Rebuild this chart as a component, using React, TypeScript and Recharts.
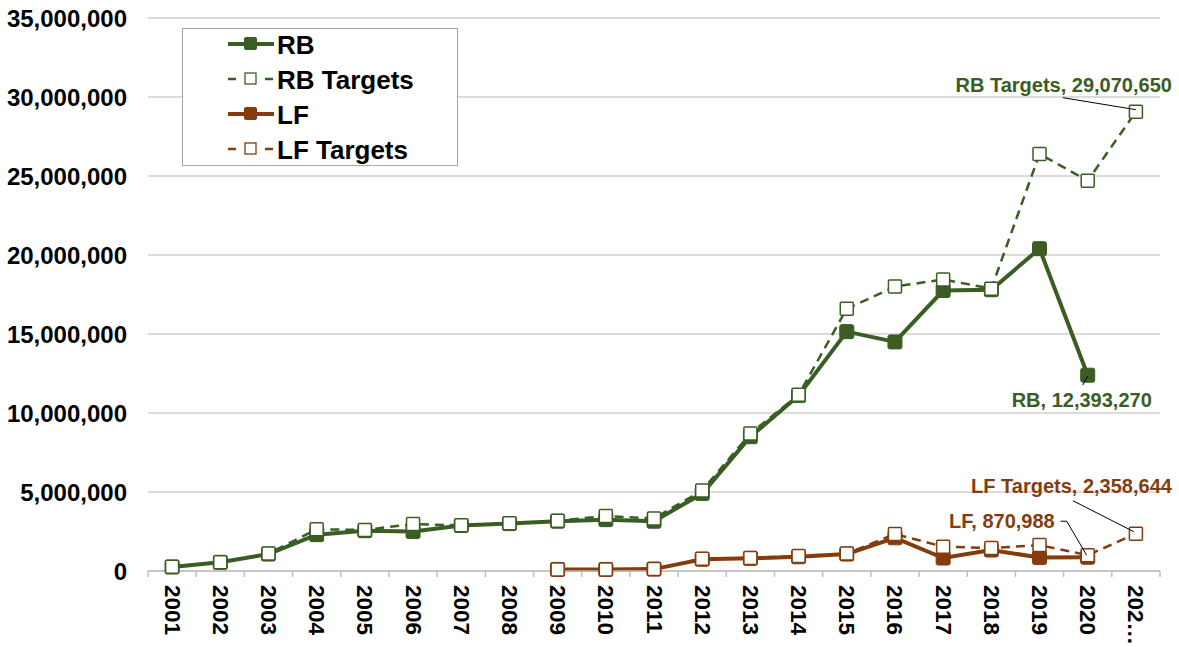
import { LineChart, Line, XAxis, YAxis, CartesianGrid, Legend, LabelList } from 'recharts';

const years = ['2001', '2002', '2003', '2004', '2005', '2006', '2007', '2008', '2009', '2010', '2011', '2012', '2013', '2014', '2015', '2016', '2017', '2018', '2019', '2020', '202…'];
const rb = [250000, 550000, 1070000, 2300000, 2550000, 2500000, 2880000, 3000000, 3150000, 3250000, 3150000, 4900000, 8500000, 11100000, 15150000, 14500000, 17750000, 17800000, 20400000, 12393270, null];
const rbTargets = [270000, 560000, 1100000, 2640000, 2600000, 2970000, 2890000, 3020000, 3180000, 3480000, 3330000, 5100000, 8700000, 11150000, 16600000, 18000000, 18450000, 17870000, 26400000, 24700000, 29070650];
const lf = [null, null, null, null, null, null, null, null, 100000, 100000, 120000, 740000, 800000, 900000, 1070000, 2100000, 820000, 1330000, 850000, 870988, null];
const lfTargets = [null, null, null, null, null, null, null, null, 100000, 100000, 120000, 770000, 830000, 950000, 1100000, 2340000, 1540000, 1450000, 1640000, 1000000, 2358644];
const yTicks = [0, 5000000, 10000000, 15000000, 20000000, 25000000, 30000000, 35000000];
const seriesOrder = ['RB', 'RB Targets', 'LF', 'LF Targets'];

const data = years.map((year, i) => ({
  year,
  rb: rb[i],
  rbTargets: rbTargets[i],
  lf: lf[i],
  lfTargets: lfTargets[i],
}));

const GREEN = '#3a5d23';
const BROWN = '#843c0c';
const FONT = '"Liberation Sans", Arial, sans-serif';
const W = 1179;
const H = 647;
const LEFT = 148;
const RIGHT = 19;
const PLOT_BOTTOM = 571;
const STEP = (W - LEFT - RIGHT) / years.length;

const fmt = (v: number) => v.toLocaleString('en-US');
const lastIdx = (arr: (number | null)[]) => {
  for (let i = arr.length - 1; i >= 0; i--) if (arr[i] != null) return i;
  return -1;
};

const makeDot = (color: string, hollow: boolean) => (props: any) => {
  const { cx, cy, index } = props;
  if (cx == null || cy == null || props.value == null) return <g key={`d-${index}`} />;
  const s = hollow ? 13 : 14;
  return (
    <rect
      key={`d-${index}`}
      x={cx - s / 2}
      y={cy - s / 2}
      width={s}
      height={s}
      rx={hollow ? 1 : 2}
      fill={hollow ? '#fff' : color}
      stroke={color}
      strokeWidth={hollow ? 1.5 : 1}
    />
  );
};

const XTick = (props: any) => {
  const { x, payload, index } = props;
  const ty = PLOT_BOTTOM + 14;
  return (
    <g>
      <line x1={x - STEP / 2} x2={x - STEP / 2} y1={PLOT_BOTTOM} y2={PLOT_BOTTOM + 6} stroke="#bfbfbf" strokeWidth={1.5} />
      {index === years.length - 1 && (
        <line x1={x + STEP / 2} x2={x + STEP / 2} y1={PLOT_BOTTOM} y2={PLOT_BOTTOM + 6} stroke="#bfbfbf" strokeWidth={1.5} />
      )}
      <text
        x={x}
        y={ty}
        transform={`rotate(90 ${x} ${ty})`}
        textAnchor="start"
        dominantBaseline="central"
        fontFamily={FONT}
        fontWeight="bold"
        fontSize={22.5}
        fill="#000"
      >
        {payload.value}
      </text>
    </g>
  );
};

const LegendBox = (props: any) => {
  const items = [...(props.payload || [])].sort(
    (a: any, b: any) => seriesOrder.indexOf(a.value) - seriesOrder.indexOf(b.value)
  );
  return (
    <div
      style={{
        width: 276,
        height: 138,
        border: '1px solid #a6a6a6',
        background: '#fff',
        boxSizing: 'border-box',
      }}
    >
      <svg width={274} height={136} style={{ display: 'block' }}>
        {items.map((entry: any, i: number) => {
          const cy = 15 + i * 35;
          const dashed = !!entry.payload?.strokeDasharray;
          const c = entry.color;
          return (
            <g key={entry.value}>
              {dashed ? (
                <>
                  <line x1={45} x2={53} y1={cy} y2={cy} stroke={c} strokeWidth={2.5} />
                  <rect x={62} y={cy - 6} width={11} height={11} fill="#fff" stroke={c} strokeWidth={1.3} />
                  <line x1={82} x2={90} y1={cy} y2={cy} stroke={c} strokeWidth={2.5} />
                </>
              ) : (
                <>
                  <line x1={45} x2={91} y1={cy} y2={cy} stroke={c} strokeWidth={4} />
                  <rect x={61} y={cy - 7} width={13} height={13} rx={2} fill={c} />
                </>
              )}
              <text x={94} y={cy + 9.5} fontFamily={FONT} fontWeight="bold" fontSize={26} fill="#000">
                {entry.value}
              </text>
            </g>
          );
        })}
      </svg>
    </div>
  );
};

const labelStyle = { fontFamily: FONT, fontWeight: 'bold' as const, fontSize: 20 };

export default function App() {
  const rbLast = lastIdx(rb);
  const rbtLast = lastIdx(rbTargets);
  const lfLast = lastIdx(lf);
  const lftLast = lastIdx(lfTargets);

  return (
    <div style={{ width: W, height: H, background: '#fff' }}>
      <style>{'body{margin:0}'}</style>
      <LineChart width={W} height={H} data={data} margin={{ top: 18, right: RIGHT, bottom: 0, left: 0 }}>
        <CartesianGrid vertical={false} stroke="#d0d0d0" strokeWidth={1.5} />
        <XAxis
          dataKey="year"
          scale="band"
          interval={0}
          height={H - PLOT_BOTTOM}
          tickLine={false}
          stroke="#bfbfbf"
          strokeWidth={1.5}
          tick={<XTick />}
        />
        <YAxis
          width={LEFT}
          domain={[0, 35000000]}
          ticks={yTicks}
          axisLine={false}
          tickLine={false}
          tickSize={0}
          tickMargin={21}
          tickFormatter={fmt}
          tick={{ fill: '#000', fontFamily: FONT, fontWeight: 'bold', fontSize: 24 }}
        />
        <Legend
          layout="vertical"
          align="center"
          verticalAlign="middle"
          content={<LegendBox />}
          wrapperStyle={{ position: 'absolute', left: 182, top: 28, width: 276, height: 138 }}
        />
        <Line
          name="RB"
          dataKey="rb"
          stroke={GREEN}
          strokeWidth={4}
          dot={makeDot(GREEN, false)}
          activeDot={false}
          isAnimationActive={false}
        >
          <LabelList
            dataKey="rb"
            content={(p: any) =>
              p.index === rbLast ? (
                <g>
                  <line x1={p.x} y1={p.y + 1} x2={p.x - 5} y2={p.y + 10} stroke="#000" strokeWidth={1} />
                  <text x={p.x - 6} y={p.y + 32} textAnchor="middle" fill={GREEN} {...labelStyle}>
                    {`RB, ${fmt(p.value)}`}
                  </text>
                </g>
              ) : null
            }
          />
        </Line>
        <Line
          name="RB Targets"
          dataKey="rbTargets"
          stroke={GREEN}
          strokeWidth={2.5}
          strokeDasharray="9 6"
          dot={makeDot(GREEN, true)}
          activeDot={false}
          isAnimationActive={false}
        >
          <LabelList
            dataKey="rbTargets"
            content={(p: any) =>
              p.index === rbtLast ? (
                <g>
                  <line x1={p.x - 73} y1={p.y - 14} x2={p.x} y2={p.y - 2} stroke="#000" strokeWidth={1} />
                  <text x={p.x + 36} y={p.y - 20} textAnchor="end" fill={GREEN} {...labelStyle}>
                    {`RB Targets, ${fmt(p.value)}`}
                  </text>
                </g>
              ) : null
            }
          />
        </Line>
        <Line
          name="LF"
          dataKey="lf"
          stroke={BROWN}
          strokeWidth={4}
          dot={makeDot(BROWN, false)}
          activeDot={false}
          isAnimationActive={false}
        >
          <LabelList
            dataKey="lf"
            content={(p: any) =>
              p.index === lfLast ? (
                <g>
                  <polyline
                    points={`${p.x - 1},${p.y - 2} ${p.x - 21},${p.y - 36} ${p.x - 27},${p.y - 36}`}
                    fill="none"
                    stroke="#000"
                    strokeWidth={1}
                  />
                  <text x={p.x - 33} y={p.y - 29} textAnchor="end" fill={BROWN} {...labelStyle}>
                    {`LF, ${fmt(p.value)}`}
                  </text>
                </g>
              ) : null
            }
          />
        </Line>
        <Line
          name="LF Targets"
          dataKey="lfTargets"
          stroke={BROWN}
          strokeWidth={2.5}
          strokeDasharray="9 6"
          dot={makeDot(BROWN, true)}
          activeDot={false}
          isAnimationActive={false}
        >
          <LabelList
            dataKey="lfTargets"
            content={(p: any) =>
              p.index === lftLast ? (
                <g>
                  <line x1={p.x - 2} y1={p.y - 2} x2={p.x - 63} y2={p.y - 33} stroke="#000" strokeWidth={1} />
                  <text x={p.x + 36} y={p.y - 41} textAnchor="end" fill={BROWN} {...labelStyle}>
                    {`LF Targets, ${fmt(p.value)}`}
                  </text>
                </g>
              ) : null
            }
          />
        </Line>
      </LineChart>
    </div>
  );
}
